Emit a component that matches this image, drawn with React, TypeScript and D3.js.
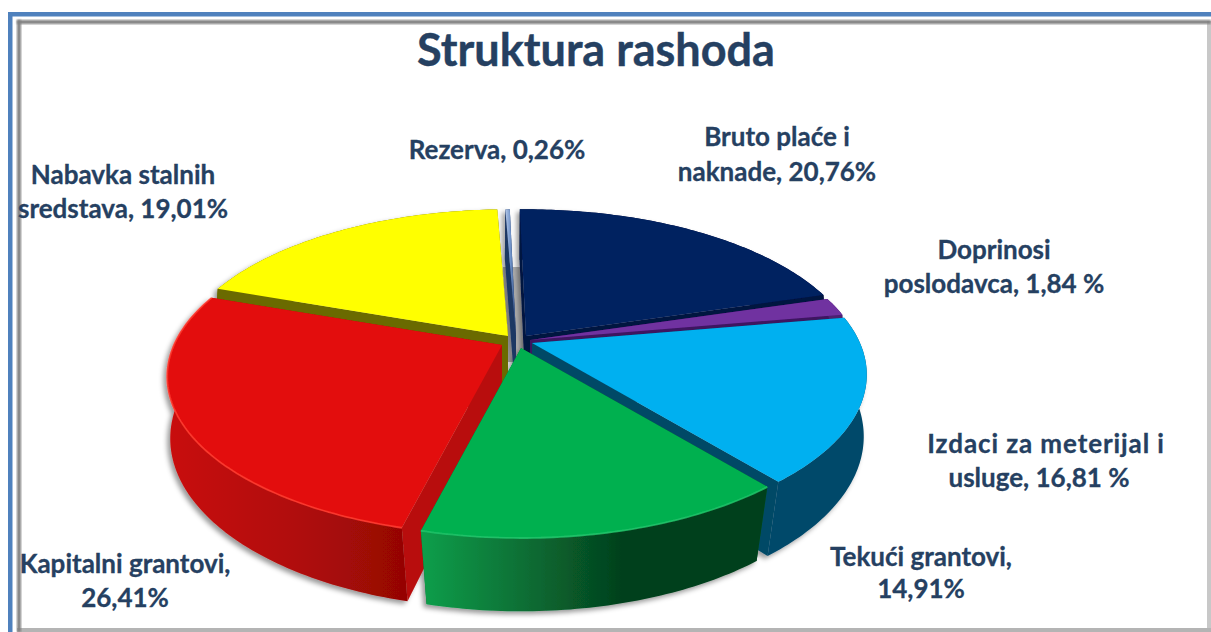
import React from "react";
import * as d3 from "d3";

// ---- data ----
const categories = ["Bruto plaće i naknade", "Doprinosi poslodavca", "Izdaci za meterijal i usluge", "Tekući grantovi", "Kapitalni grantovi", "Nabavka stalnih sredstava", "Rezerva"];
const shares = [20.76, 1.84, 16.81, 14.91, 26.41, 19.01, 0.26];
const labelLines = [
  ["Bruto plaće i", "naknade, 20,76%"],
  ["Doprinosi", "poslodavca, 1,84 %"],
  ["Izdaci za meterijal i", "usluge, 16,81 %"],
  ["Tekući grantovi,", "14,91%"],
  ["Kapitalni grantovi,", "26,41%"],
  ["Nabavka stalnih", "sredstava, 19,01%"],
  ["Rezerva, 0,26%"],
];
const title = "Struktura rashoda";

// ---- style / layout ----
const W = 1211, H = 632;
const topColors = ["#002060", "#7030a0", "#00b0f0", "#00b050", "#e30d0b", "#ffff00", "url(#rez)"];
const edgeColors = ["#00123f", "#3d1560", "#004a66", "#04602c", "#b80c09", "#6b6b00", "#1f3864"];
const wallLeft = ["#00123f", "#4b2070", "#00486a", "#0a9e4a", "#c80f0c", "#6b6b00", "#1f3864"];
const wallMid = ["#00123f", "#4b2070", "#00486a", "#0a6f35", "#b00c09", "#6b6b00", "#1f3864"];
const wallEnd = ["#00123f", "#4b2070", "#00486a", "#04401c", "#960605", "#6b6b00", "#1f3864"];
const highlight = [null, null, null, "#1fc46a", "#ff3b30", null, null];
const explodeX = [10, 14, 16, 5, -14, -8, 0];
const explodeY = [-4, 0, 3, 8, 5, -4, -4];
const paintOrder = [6, 5, 0, 1, 2, 4, 3];
const labelX = [[777, 777], [994, 994], [1046, 1039], [921, 921], [125, 125], [123, 123], [497]];
const labelY = [[146, 181], [259, 293], [453, 487], [566, 598], [573, 607], [184, 218], [159]];
const labelSpacing = [[0, 0], [0, 0], [0.9, 0], [0, 0], [0, 0], [0, 0], [0]];

const cx = 516, cy = 340;
const Rx = 328, RyTop = 152, RyBottom = 166, kTop = 0.2, kBottom = 0.15;
const depth = 68;
const rotation = (-1.3 * Math.PI) / 180;

const project = (a: number, ry: number, k: number): [number, number] => {
  const u = Math.sin(a), v = -Math.cos(a);
  const w = 1 - k * v;
  return [(Rx * u) / w, (ry * v) / w];
};
const line = d3.line();
const arcs = d3.pie<number>().sort(null).startAngle(rotation).endAngle(rotation + 2 * Math.PI)(shares);
const samples = (a0: number, a1: number) => {
  const n = Math.max(4, Math.ceil(Math.abs(a1 - a0) * 60));
  return d3.range(n + 1).map((i) => a0 + ((a1 - a0) * i) / n);
};

function Slice({ i }: { i: number }) {
  const arc = arcs[i];
  const ox = cx + explodeX[i], oy = cy + explodeY[i];
  const T = (a: number): [number, number] => {
    const p = project(a, RyTop, kTop);
    return [ox + p[0], oy + p[1]];
  };
  const B = (a: number): [number, number] => {
    const p = project(a, RyBottom, kBottom);
    return [ox + p[0], oy + depth + p[1]];
  };
  const as = samples(arc.startAngle, arc.endAngle);
  const topArc = as.map(T);
  const botArc = as.map(B);
  const tip: [number, number] = [ox, oy];
  const tipB: [number, number] = [ox, oy + depth];
  const edge = (a: number) => line([tip, T(a), B(a), tipB])! + "Z";
  return (
    <g>
      <path d={edge(arc.startAngle)} fill={edgeColors[i]} />
      <path d={edge(arc.endAngle)} fill={edgeColors[i]} />
      <path d={line([...topArc, ...botArc.slice().reverse()])! + "Z"} fill={`url(#wall${i})`} />
      <path d={line([tip, ...topArc])! + "Z"} fill={topColors[i]} />
      {highlight[i] && (
        <path d={line(topArc)!} fill="none" stroke={highlight[i]!} strokeWidth={1.8} opacity={0.85} />
      )}
    </g>
  );
}

export default function App() {
  const font = "Lato, 'Open Sans', sans-serif";
  return (
    <svg width={W} height={H} viewBox={`0 0 ${W} ${H}`} style={{ position: "absolute", left: 0, top: 0, display: "block" }}>
      <defs>
        <filter id="pieShadow" x="-10%" y="-10%" width="120%" height="120%">
          <feDropShadow dx={-3} dy={3} stdDeviation={2.5} floodColor="#000" floodOpacity={0.4} />
        </filter>
        <filter id="soft" x="-5%" y="-5%" width="110%" height="110%">
          <feGaussianBlur stdDeviation={1} />
        </filter>
        <linearGradient id="rez" x1="0" x2="1" y1="0" y2="0">
          <stop offset="0" stopColor="#b4c8e8" />
          <stop offset="0.5" stopColor="#6f92c8" />
          <stop offset="1" stopColor="#27457a" />
        </linearGradient>
        {categories.map((_, i) => (
          <linearGradient key={i} id={`wall${i}`} gradientUnits="userSpaceOnUse"
            x1={i === 3 ? 423 : 170} x2={i === 3 ? 756 : 400} y1={0} y2={0}>
            <stop offset="0" stopColor={wallLeft[i]} />
            <stop offset={i === 3 ? 0.3 : 0.55} stopColor={wallMid[i]} />
            <stop offset={i === 3 ? 0.6 : 1} stopColor={wallEnd[i]} />
          </linearGradient>
        ))}
      </defs>

      <rect width={W} height={H} fill="#fff" />
      {/* outer blue frame */}
      <rect x={8} y={12} width={W - 8} height={4.5} fill="#4f81bd" />
      <rect x={8} y={12} width={4.5} height={H - 12} fill="#4f81bd" />
      {/* inner bevel */}
      <rect x={1207} y={21} width={4} height={H - 21} fill="#c8c8c8" />
      <rect x={17} y={628} width={W - 17} height={4} fill="#b4b4b4" />
      <rect x={17} y={20} width={W - 17} height={4} fill="#808080" filter="url(#soft)" />
      <rect x={17} y={20} width={4} height={H - 20} fill="#808080" filter="url(#soft)" />

      <text x={596} y={66} textAnchor="middle" fontFamily={font} fontWeight={700} fontSize={45} stroke="#254061" strokeWidth={0.4} fill="#254061">{title}</text>

      {/* floor visible in the gap behind the slices */}
      <path d={line([[503, 267], [520, 267], [524, 362], [505, 362]])! + "Z"} fill="#b2b2b2" />

      <g filter="url(#pieShadow)">
        {paintOrder.map((i) => <Slice key={i} i={i} />)}
      </g>

      {labelLines.map((lines, i) =>
        lines.map((t, j) => (
          <text key={`${i}-${j}`} x={labelX[i][j]} y={labelY[i][j]} textAnchor="middle"
            fontFamily={font} fontWeight={700} fontSize={26} letterSpacing={labelSpacing[i][j]}
            stroke="#254061" strokeWidth={0.3} fill="#254061">{t}</text>
        ))
      )}
    </svg>
  );
}
